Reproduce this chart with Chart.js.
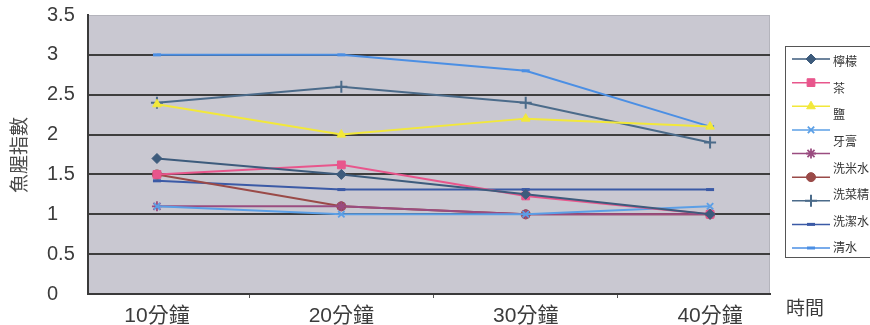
<!DOCTYPE html>
<html>
<head>
<meta charset="utf-8">
<script src="https://cdn.jsdelivr.net/npm/chart.js@4/dist/chart.umd.min.js"></script>
<style>
  html, body { margin: 0; padding: 0; background: #ffffff; }
  #wrap { position: relative; width: 870px; height: 325px; }
</style>
</head>
<body>
<div id="wrap"><canvas id="fishChart" width="870" height="325"></canvas></div>
<script>
// time points on the x axis
const categories = ["10分鐘", "20分鐘", "30分鐘", "40分鐘"];
const yTicks = [0, 0.5, 1, 1.5, 2, 2.5, 3, 3.5];
const yTitle = "魚腥指數";
const xTitle = "時間";

// one array per cleaning liquid
const lemon      = [1.7, 1.5, 1.25, 1.0];
const tea        = [1.5, 1.62, 1.23, 1.0];
const salt       = [2.38, 2.0, 2.2, 2.1];
const toothpaste = [1.1, 1.0, 1.0, 1.1];
const unnamed    = [1.1, 1.1, 1.0, 1.0];
const riceWater  = [1.5, 1.1, 1.0, 1.0];
const veggieSoap = [2.4, 2.6, 2.4, 1.9];
const dishWater  = [1.42, 1.31, 1.31, 1.31];
const plainWater = [3.0, 3.0, 2.8, 2.1];

const seriesNames = ["檸檬", "茶", "鹽", "牙膏", "", "洗米水", "洗菜精", "洗潔水", "清水"];
const seriesData = [lemon, tea, salt, toothpaste, unnamed, riceWater, veggieSoap, dishWater, plainWater];
const seriesColors = ["#3d5b7c", "#e8568c", "#f2e83a", "#5b9fe6", "#9a4c80", "#9a4a48", "#4b6b8a", "#3b5aa6", "#4b8fe4"];
const seriesMarkers = ["rectRot", "rect", "triangle", "crossRot", "star", "circle", "cross", "line", "line"];

const FONT = "'Liberation Sans', 'Noto Sans CJK TC', sans-serif";

const markerRadius = { rectRot: 5, rect: 5.5, triangle: 5, crossRot: 4.5, star: 5, circle: 4.5, cross: 6, line: 4 };
const markerStroke = { rectRot: 1, rect: 1, triangle: 1, crossRot: 1.8, star: 1.8, circle: 1, cross: 2, line: 3 };

const datasets = seriesNames.map((name, i) => ({
  label: name,
  data: seriesData[i].map((v, k) => ({ x: k, y: v })),
  borderColor: seriesColors[i],
  backgroundColor: seriesColors[i],
  borderWidth: 2,
  pointStyle: seriesMarkers[i],
  pointRadius: markerRadius[seriesMarkers[i]],
  pointBorderWidth: markerStroke[seriesMarkers[i]],
  tension: 0,
  fill: false,
}));

// grey plot background
const plotBackground = {
  id: "plotBackground",
  beforeDraw(chart) {
    const { ctx, chartArea: a } = chart;
    ctx.save();
    ctx.fillStyle = "#c9c8d1";
    ctx.fillRect(a.left, a.top, a.right - a.left, a.bottom - a.top);
    ctx.strokeStyle = "#b4b4bc";
    ctx.lineWidth = 1;
    ctx.strokeRect(a.left + 0.5, a.top + 0.5, a.right - a.left - 1, a.bottom - a.top);
    ctx.restore();
  },
};

// axis titles and the boxed legend on the right
const sideText = {
  id: "sideText",
  afterDraw(chart) {
    const { ctx } = chart;
    ctx.save();
    ctx.fillStyle = "#4a4a4a";
    ctx.font = "19px " + FONT;
    ctx.textAlign = "center";
    ctx.textBaseline = "middle";
    ctx.translate(21, 155);
    ctx.rotate(-Math.PI / 2);
    ctx.fillText(yTitle, 0, 0);
    ctx.restore();

    ctx.save();
    ctx.fillStyle = "#3c3c3c";
    ctx.font = "19px " + FONT;
    ctx.textAlign = "left";
    ctx.textBaseline = "middle";
    ctx.fillText(xTitle, 786, 310);

    // legend box
    ctx.strokeStyle = "#555";
    ctx.lineWidth = 1;
    ctx.strokeRect(785.5, 46.5, 90, 211);
    const n = chart.data.datasets.length;
    const mTop = 59, mBottom = 248;
    chart.data.datasets.forEach((ds, i) => {
      const y = mTop + (mBottom - mTop) * i / (n - 1);
      ctx.strokeStyle = ds.borderColor;
      ctx.fillStyle = ds.backgroundColor;
      ctx.lineWidth = 1.5;
      ctx.beginPath();
      ctx.moveTo(792, y);
      ctx.lineTo(830, y);
      ctx.stroke();
      ctx.lineWidth = ds.pointBorderWidth;
      Chart.helpers.drawPoint(ctx, {
        pointStyle: ds.pointStyle,
        radius: ds.pointRadius,
        rotation: 0,
        borderWidth: ds.pointBorderWidth,
      }, 811, y);
    });
    const named = chart.data.datasets.filter(ds => ds.label !== "");
    const lTop = 63, lBottom = 249;
    ctx.fillStyle = "#333";
    ctx.font = "12px " + FONT;
    named.forEach((ds, i) => {
      const y = lTop + (lBottom - lTop) * i / (named.length - 1);
      ctx.fillText(ds.label, 833, y);
    });
    ctx.restore();
  },
};

new Chart(document.getElementById("fishChart"), {
  type: "line",
  data: { datasets },
  options: {
    responsive: false,
    animation: false,
    events: [],
    layout: { padding: { left: 47, right: 100, top: 12, bottom: 0 } },
    plugins: {
      legend: { display: false },
      tooltip: { enabled: false },
    },
    scales: {
      x: {
        type: "linear",
        min: -0.374,
        max: 3.325,
        afterBuildTicks(scale) {
          scale.ticks = [0, 0.5, 1, 1.5, 2, 2.5, 3].map(v => ({ value: v }));
        },
        afterFit(scale) { scale.height = 31; },
        ticks: {
          autoSkip: false,
          maxRotation: 0,
          padding: 6,
          color: "#3c3c3c",
          font: { family: FONT, size: 21 },
          callback: (v) => Number.isInteger(v) ? categories[v] : "",
        },
        grid: {
          drawOnChartArea: false,
          tickLength: 4,
          lineWidth: 1,
          color: (c) => c.tick && Number.isInteger(c.tick.value) ? "rgba(0,0,0,0)" : "#555",
        },
        border: { display: true, color: "#3a3a3a", width: 2 },
      },
      y: {
        min: 0,
        max: 3.5,
        afterBuildTicks(scale) {
          scale.ticks = yTicks.map(v => ({ value: v }));
        },
        afterFit(scale) { scale.width = 41; },
        ticks: {
          autoSkip: false,
          crossAlign: "far",
          color: "#3c3c3c",
          font: { family: FONT, size: 20 },
          callback: (v) => String(v),
        },
        grid: {
          drawTicks: false,
          lineWidth: 2,
          color: (c) => c.tick && c.tick.value >= 3.5 ? "rgba(0,0,0,0)" : "#3e3e3e",
        },
        border: { display: true, color: "#3a3a3a", width: 2 },
      },
    },
  },
  plugins: [plotBackground, sideText],
});
</script>
</body>
</html>
